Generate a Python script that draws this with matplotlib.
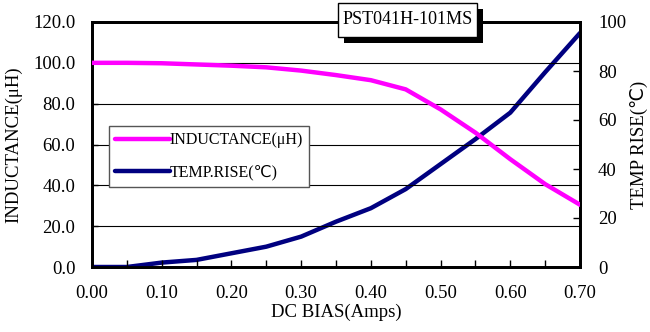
import matplotlib
matplotlib.use("Agg")
import matplotlib.pyplot as plt
from matplotlib.patches import Rectangle
from matplotlib.ticker import MultipleLocator

# DC bias sweep (A)
bias = [0.00, 0.05, 0.10, 0.15, 0.20, 0.25, 0.30, 0.35, 0.40, 0.45,
        0.50, 0.55, 0.60, 0.65, 0.70]
# inductance (uH), left axis
inductance = [100.0, 100.0, 99.8, 99.2, 98.6, 97.8, 96.2, 94.0, 91.5, 87.0,
              77.2, 65.8, 52.8, 40.6, 30.5]
# temperature rise (C), right axis
temp_rise = [0.0, 0.0, 1.8, 2.9, 5.6, 8.3, 12.4, 18.5, 24.0, 31.8,
             42.0, 52.2, 63.0, 79.5, 95.5]

plt.rcParams['font.family'] = ['Liberation Serif', 'DejaVu Sans']
plt.rcParams['font.size'] = 13.5

fig = plt.figure(figsize=(6.5, 3.32), dpi=100)
ax = fig.add_axes([92 / 650, 65 / 332, 488 / 650, 245 / 332])
ax2 = ax.twinx()

ax.set_xlim(0, 0.70)
ax.set_ylim(0, 120)
ax2.set_ylim(0, 100)

for y in range(20, 120, 20):
    ax.axhline(y, color='black', lw=0.8, zorder=0)

l1, = ax.plot(bias, inductance, color='#FF00FF', lw=3.2, solid_capstyle='round', zorder=3)
l2, = ax2.plot(bias, temp_rise, color='#000080', lw=3.2, solid_capstyle='round', zorder=3)
ax.set_zorder(ax2.get_zorder() + 1)
ax.patch.set_visible(False)

ax.xaxis.set_major_locator(MultipleLocator(0.10))
ax.xaxis.set_minor_locator(MultipleLocator(0.05))
ax.xaxis.set_major_formatter(plt.FuncFormatter(lambda v, p: f"{v:.2f}"))
ax.yaxis.set_major_locator(MultipleLocator(20))
ax.yaxis.set_major_formatter(plt.FuncFormatter(lambda v, p: f"{v:.1f}"))
ax.tick_params(axis='x', which='both', direction='in', length=5, width=1, pad=13)
ax.tick_params(axis='y', direction='in', length=4, width=1, pad=12)
ax2.yaxis.set_major_locator(MultipleLocator(20))
ax2.tick_params(axis='y', direction='in', length=5, width=1, pad=13)

for a in (ax, ax2):
    for s in a.spines.values():
        s.set_linewidth(2)

ax.set_xlabel('DC BIAS(Amps)', labelpad=1)
ax.set_ylabel('INDUCTANCE(μH)', labelpad=8)
ax2.set_ylabel('TEMP RISE(℃)', labelpad=3)

leg = fig.legend([l1, l2], ['INDUCTANCE(μH)', 'TEMP.RISE(℃)'],
                 loc='upper left', bbox_to_anchor=(109 / 650, 1 - 126 / 332),
                 bbox_transform=fig.transFigure,
                 fancybox=False, framealpha=1, edgecolor='#555555',
                 handlelength=3.4, handletextpad=0.0, labelspacing=1.0,
                 borderpad=0.4, borderaxespad=0, fontsize=11.5)
leg.get_frame().set_linewidth(1.0)

# part number label with drop shadow
fig.patches.append(Rectangle((344 / 650, 1 - 43 / 332), 139 / 650, 34 / 332,
                             transform=fig.transFigure, facecolor='black',
                             edgecolor='none', zorder=5))
fig.patches.append(Rectangle((338 / 650, 1 - 37 / 332), 139 / 650, 34 / 332,
                             transform=fig.transFigure, facecolor='white',
                             edgecolor='black', linewidth=1.0, zorder=6))
fig.text(407.5 / 650, 1 - 20 / 332, 'PST041H-101MS', ha='center', va='center',
         fontsize=13, zorder=7)

fig.savefig('out.png', dpi=100)
